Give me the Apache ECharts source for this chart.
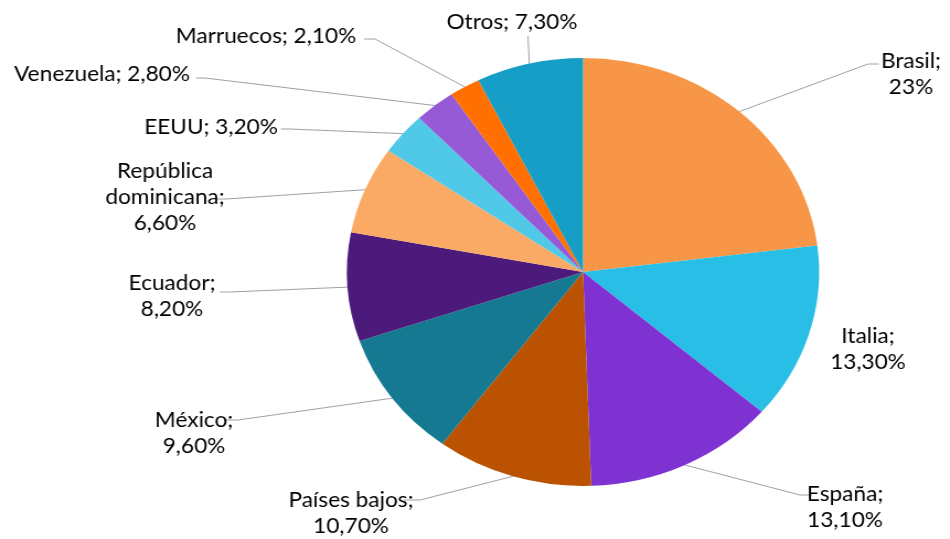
<!DOCTYPE html>
<html>
<head>
<meta charset="utf-8">
<script src="https://cdn.jsdelivr.net/npm/echarts@6/dist/echarts.min.js"></script>
<style>
  html, body { margin: 0; padding: 0; background: #fff; overflow: hidden; }
  #main { width: 861px; height: 539px; transform: scaleX(1.1033); transform-origin: 0 0; }
</style>
</head>
<body>
<div id="main"></div>
<script>
    // the original picture is stretched horizontally, so the chart is drawn narrower and scaled
    var S = 1.1033;

    var categories = ['Brasil', 'Italia', 'España', 'Países bajos', 'México', 'Ecuador',
        'República dominicana', 'EEUU', 'Venezuela', 'Marruecos', 'Otros'];
    var shares = [23, 13.3, 13.1, 10.7, 9.6, 8.2, 6.6, 3.2, 2.8, 2.1, 7.3];
    var colors = ['#F79646', '#29BEE6', '#7E32D2', '#BA5202', '#147991', '#4C1A7A',
        '#FBAA66', '#50C8E8', '#965AD7', '#FF7000', '#179EC6'];

    // label spot in the picture: [centerX, centerY, bendX, bendY, endX, endY, oneLine]
    var labelSpots = [
        [911, 74, 868, 64, 879, 64, false],
        [868, 349, null, null, null, null, false],
        [845, 507, 800, 495, 812, 495, false],
        [351, 513, 420, 500, 404, 500, false],
        [194, 433, 238, 420, 224, 420, false],
        [172, 296, 230, 292, 220, 292, false],
        [165, 197, 226, 199, 216, 199, false],
        [211, 127, 290, 129, 281, 129, true],
        [102, 74, 205, 78, 196, 78, true],
        [266, 36, 375, 39, 364, 39, true],
        [512, 22, 528, 37, 528, 36, true]
    ];

    function fmtShare(v) {
        if (v === Math.round(v)) return v + '%';
        return v.toFixed(2).replace('.', ',') + '%';
    }

    var pieData = categories.map(function (name, i) {
        var item = { name: name, value: shares[i], itemStyle: { color: colors[i] } };
        if (labelSpots[i][2] == null) {
            item.labelLine = { show: false };
        }
        return item;
    });

    var chart = echarts.init(document.getElementById('main'));
    chart.setOption({
        animation: false,
        series: [{
            type: 'pie',
            center: [583 / S, 272],
            radius: 214,
            startAngle: 90,
            clockwise: true,
            avoidLabelOverlap: false,
            data: pieData,
            label: {
                show: true,
                position: 'outside',
                overflow: 'none',
                fontFamily: 'Lato',
                fontSize: 20.5,
                lineHeight: 26,
                color: '#000',
                formatter: function (p) {
                    var spot = labelSpots[p.dataIndex];
                    var name = p.name;
                    if (spot[6]) return name + '; ' + fmtShare(p.value);
                    if (name === 'República dominicana') name = 'República\ndominicana';
                    return name + ';\n' + fmtShare(p.value);
                }
            },
            labelLine: {
                show: true,
                lineStyle: { color: '#a0a0a0', width: 1 }
            },
            labelLayout: function (params) {
                var spot = labelSpots[params.dataIndex];
                var out = { x: spot[0] / S, y: spot[1], align: 'center', verticalAlign: 'middle' };
                if (spot[2] != null && params.labelLinePoints) {
                    out.labelLinePoints = [
                        params.labelLinePoints[0],
                        [spot[2] / S, spot[3]],
                        [spot[4] / S, spot[5]]
                    ];
                }
                return out;
            }
        }]
    });
</script>
</body>
</html>
